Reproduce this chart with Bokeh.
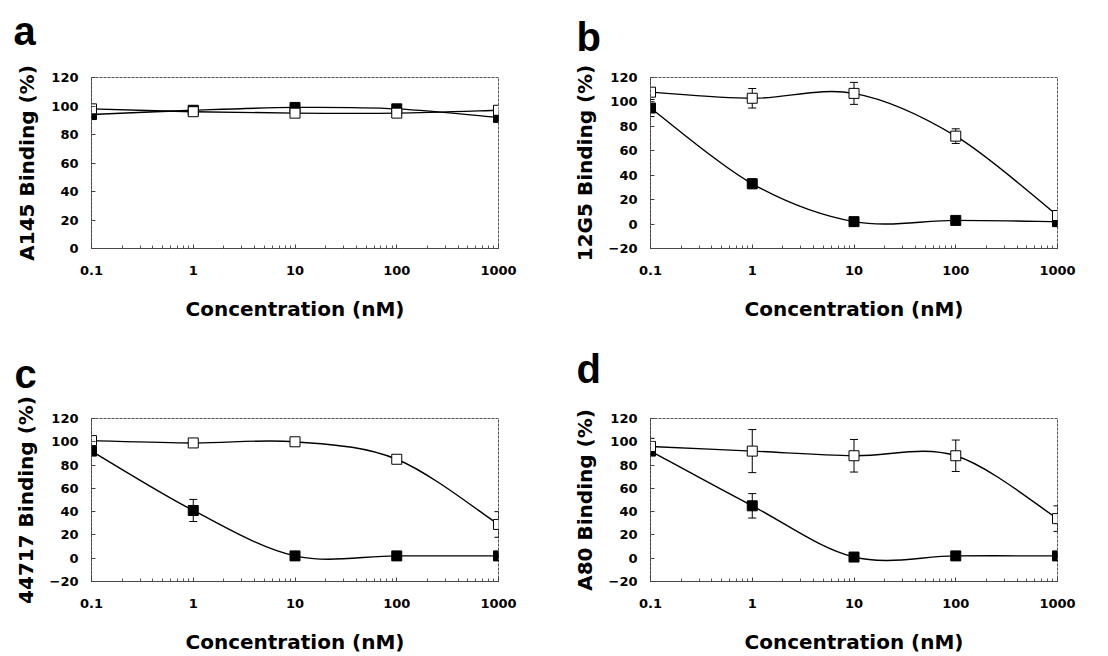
import numpy as np
from bokeh.plotting import figure
from bokeh.layouts import gridplot
from bokeh.models import (ColumnDataSource, Whisker, TeeHead, FixedTicker,
                          CustomJSTickFormatter, Range1d, Title)
from bokeh.embed import file_html
from bokeh.resources import INLINE

# ---------------- data ----------------
conc = [0.1, 1, 10, 100, 1000]
x_ticks = [0.1, 1, 10, 100, 1000]

panel_letters = ["a", "b", "c", "d"]
y_titles = ["A145 Binding (%)", "12G5 Binding (%)", "44717 Binding (%)", "A80 Binding (%)"]
y_mins = [0, -20, -20, -20]
y_max = 120

# closed squares
a_filled = [94, 97, 99, 98, 92]
a_filled_err = [2, 2, 2, 2, 2]
b_filled = [95, 33, 2, 3, 2]
b_filled_err = [7, 4, 1, 1, 1]
c_filled = [92, 41, 2, 2, 2]
c_filled_err = [2, 9.5, 1, 1, 1]
d_filled = [92, 45, 1, 2, 2]
d_filled_err = [3, 10.5, 1, 1, 1]

# open squares
a_open = [98, 96, 95, 95, 97]
a_open_err = [2, 2, 2, 2, 2]
b_open = [108, 103, 107, 72, 7]
b_open_err = [3, 8, 9, 6, 2]
c_open = [101, 99, 100, 85, 29]
c_open_err = [2, 2, 2, 3, 11]
d_open = [96, 92, 88, 88, 34]
d_open_err = [7, 18.5, 14, 13.5, 11]

filled_series = [(a_filled, a_filled_err), (b_filled, b_filled_err),
                 (c_filled, c_filled_err), (d_filled, d_filled_err)]
open_series = [(a_open, a_open_err), (b_open, b_open_err),
               (c_open, c_open_err), (d_open, d_open_err)]

FONT = "DejaVu Sans"
LETTER_FONT = "Liberation Sans"

W, H = 554, 328
borders = [  # left, right, top, bottom
    (90, 56, 77, 80),
    (96, 51, 76, 80),
    (91, 56, 90, 65),
    (96, 48, 88, 67),
]
letter_offset = [-78, -74, -77, -74]
spacer_size = [16.5, 11, 14, 18.5]


def smooth_bezier(xs, ys):
    """Excel-style smoothed line: Catmull-Rom bezier control points in (log10 x, y)."""
    lx = np.log10(np.array(xs, dtype=float))
    y = np.array(ys, dtype=float)
    n = len(lx)
    pts = np.column_stack([lx, y])
    out = dict(x0=[], y0=[], x1=[], y1=[], cx0=[], cy0=[], cx1=[], cy1=[])
    for i in range(n - 1):
        p0 = pts[max(i - 1, 0)]
        p1 = pts[i]
        p2 = pts[i + 1]
        p3 = pts[min(i + 2, n - 1)]
        c1 = p1 + (p2 - p0) / 6.0
        c2 = p2 - (p3 - p1) / 6.0
        out["x0"].append(10 ** p1[0]); out["y0"].append(p1[1])
        out["x1"].append(10 ** p2[0]); out["y1"].append(p2[1])
        out["cx0"].append(10 ** c1[0]); out["cy0"].append(c1[1])
        out["cx1"].append(10 ** c2[0]); out["cy1"].append(c2[1])
    return ColumnDataSource(out)


minor = []
for dec in [0.1, 1, 10, 100]:
    minor += [dec * k for k in range(2, 10)]

figs = []
for i in range(4):
    bl, br, bt, bb = borders[i]
    p = figure(width=W, height=H, x_axis_type="log", title=None,
               x_range=Range1d(0.1, 1000), y_range=Range1d(y_mins[i], y_max),
               output_backend="svg", toolbar_location=None,
               min_border_left=bl, min_border_right=br,
               min_border_top=bt, min_border_bottom=bb)
    p.xgrid.visible = False
    p.ygrid.visible = False
    p.outline_line_color = "#555555"
    p.outline_line_dash = "3 1"
    p.outline_line_width = 1

    # spacer (nearest the frame) then the panel letter above it
    p.add_layout(Title(text=" ", text_font_size=f"{spacer_size[i]}px",
                       standoff=0), "above")
    p.add_layout(Title(text=panel_letters[i], text_font=LETTER_FONT,
                       text_font_style="bold", text_font_size="40px",
                       text_color="black", align="left",
                       offset=letter_offset[i]), "above")

    p.xaxis.ticker = FixedTicker(ticks=x_ticks, minor_ticks=minor)
    p.xaxis.formatter = CustomJSTickFormatter(
        code="return tick < 1 ? tick.toFixed(1) : tick.toFixed(0);")
    p.yaxis.ticker = FixedTicker(ticks=list(range(y_mins[i], y_max + 1, 20)))

    for ax in (p.xaxis[0], p.yaxis[0]):
        ax.axis_line_color = "#444444"
        ax.axis_line_dash = "3 1"
        ax.major_tick_line_color = "#444444"
        ax.minor_tick_line_color = "#555555"
        ax.major_tick_out = 0
        ax.major_tick_in = 4
        ax.minor_tick_out = 0
        ax.minor_tick_in = 3
        ax.major_label_text_font = FONT
        ax.major_label_text_font_style = "bold"
        ax.major_label_text_font_size = "13px"
        ax.major_label_text_color = "black"
        ax.axis_label_text_font = FONT
        ax.axis_label_text_font_style = "bold"
        ax.axis_label_text_font_size = "20px"
        ax.axis_label_text_color = "black"
    p.yaxis.minor_tick_line_color = None
    p.xaxis.major_label_standoff = 17
    p.yaxis.major_label_standoff = 13
    p.xaxis.axis_label = "Concentration (nM)"
    p.xaxis.axis_label_standoff = 19
    p.yaxis.axis_label = y_titles[i]
    p.yaxis.axis_label_standoff = 9

    for (vals, errs) in (filled_series[i], open_series[i]):
        src = ColumnDataSource(dict(
            x=conc, y=vals,
            lo=[v - e for v, e in zip(vals, errs)],
            hi=[v + e for v, e in zip(vals, errs)]))
        w = Whisker(source=src, base="x", lower="lo", upper="hi",
                    line_color="black", line_width=1, level="underlay",
                    lower_head=TeeHead(size=8, line_width=1, line_color="black"),
                    upper_head=TeeHead(size=8, line_width=1, line_color="black"))
        p.add_layout(w)

    for vals, _ in (filled_series[i], open_series[i]):
        bs = smooth_bezier(conc, vals)
        p.bezier(x0="x0", y0="y0", x1="x1", y1="y1", cx0="cx0", cy0="cy0",
                 cx1="cx1", cy1="cy1", source=bs, line_color="black", line_width=1.4)

    fv, _ = filled_series[i]
    ov, _ = open_series[i]
    p.scatter(conc, fv, marker="square", size=10, fill_color="black", line_color="black")
    p.scatter(conc, ov, marker="square", size=10, fill_color="white",
              line_color="black", line_width=1)
    figs.append(p)

grid = gridplot([[figs[0], figs[1]], [figs[2], figs[3]]], toolbar_location=None)
open("out.html", "w").write(file_html(grid, INLINE))
